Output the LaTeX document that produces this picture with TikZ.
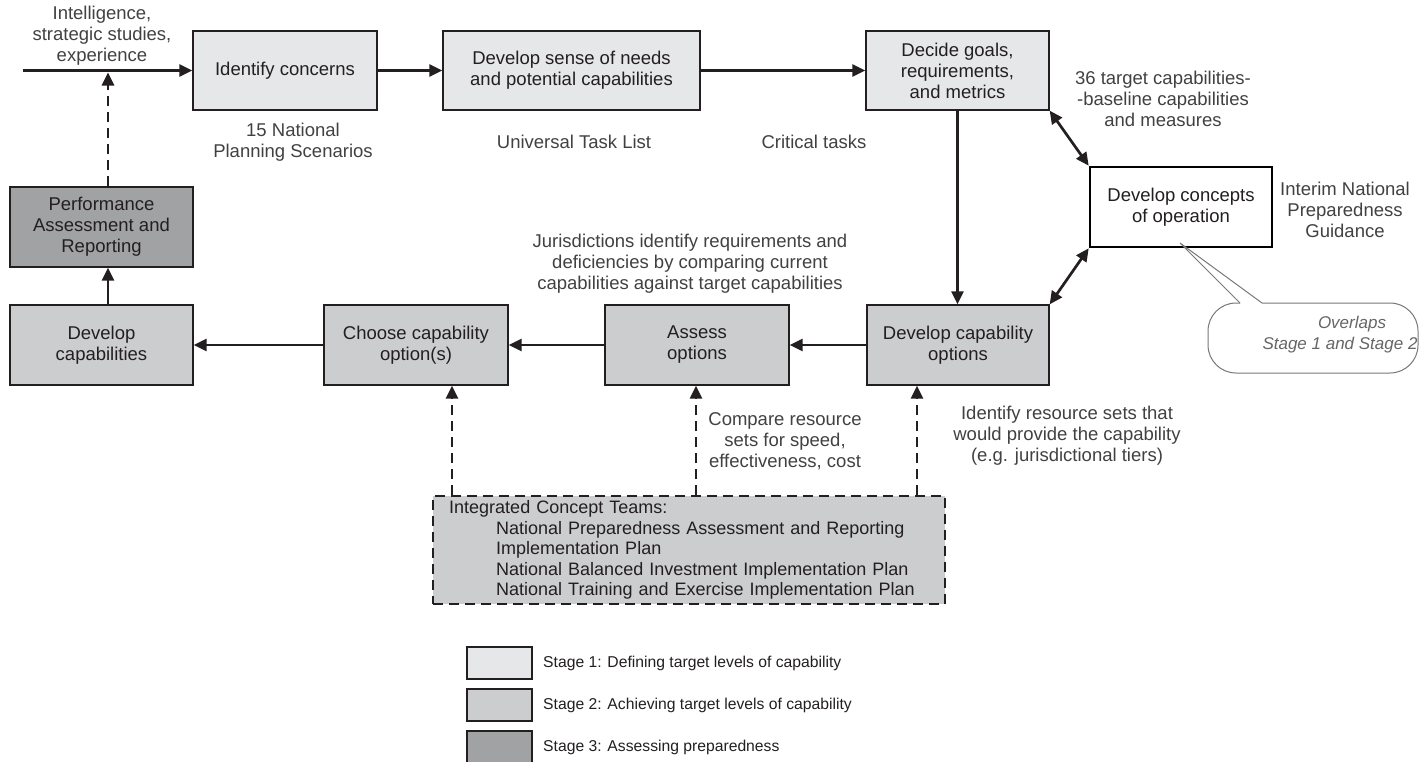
\documentclass[tikz,border=0pt]{standalone}
\usepackage{fontspec}
\setmainfont{Liberation Sans}
\usetikzlibrary{arrows.meta,calc}
\definecolor{sone}{RGB}{230,231,232}
\definecolor{stwo}{RGB}{204,205,207}
\definecolor{sthree}{RGB}{161,162,164}
\definecolor{ink}{RGB}{35,31,32}
\definecolor{soft}{RGB}{65,64,66}
\definecolor{bubblec}{RGB}{120,120,120}
\begin{document}
\begin{tikzpicture}[x=1pt,y=-1pt,
  box/.style={draw=ink, line width=1.3pt, inner sep=0pt, align=center,
    font=\fontsize{18.5}{21}\selectfont, text=ink, minimum height=80},
  sa/.style={box, fill=sone},
  sb/.style={box, fill=stwo},
  sc/.style={box, fill=sthree},
  note/.style={align=center, font=\fontsize{18.5}{21}\selectfont, text=soft},
  arr/.style={line width=2.7pt, draw=ink, -{Triangle[length=13pt,width=12pt]}},
  darr/.style={arr, dash pattern=on 10pt off 6pt},
  biarr/.style={line width=2.7pt, draw=ink, {Triangle[length=13pt,width=12pt]}-{Triangle[length=13pt,width=12pt]}},
  legbox/.style={draw=ink, line width=1.3pt, minimum width=65, minimum height=32, inner sep=0pt},
  legtext/.style={anchor=west, inner sep=0pt, font=\fontsize{15.7}{18}\selectfont, text=ink},
  bubble/.style={draw=bubblec, line width=1pt}
]
\useasboundingbox (0,0) rectangle (1426,761);

% Stage 1 boxes
\node[sa, minimum width=184, minimum height=79] (ic) at (285,70.5) {Identify concerns};
\node[sa, minimum width=257, minimum height=79] (ds) at (571.5,70.5) {Develop sense of needs\\and potential capabilities};
\node[sa, minimum width=183, minimum height=79] (dg) at (957.5,70.5) {Decide goals,\\requirements,\\and metrics};
\node[box, fill=white, line width=2.6pt, draw=black, minimum width=182] (dc) at (1181,207) {Develop concepts\\of operation};

% Stage 2 / 3 boxes
\node[sc, minimum width=183] (pa) at (101.5,227) {Performance\\Assessment and\\Reporting};
\node[sb, minimum width=183] (dcap) at (101.5,345) {Develop\\capabilities};
\node[sb, minimum width=184] (ch) at (416,345) {Choose capability\\option(s)};
\node[sb, minimum width=184] (as) at (697,345) {Assess\\options};
\node[sb, minimum width=182] (dco) at (958,345) {Develop capability\\options};

% Integrated concept teams
\node[draw=ink, fill=stwo, line width=2.4pt, dash pattern=on 10pt off 6pt,
  anchor=north west, minimum width=511, minimum height=108, text width=480,
  inner xsep=16pt, inner ysep=0pt, align=left,
  font=\fontsize{18}{20.5}\selectfont, text=ink] (ict) at (432,495)
  {Integrated Concept Teams:\\
   \hspace*{47pt}National Preparedness Assessment and Reporting\\
   \hspace*{47pt}Implementation Plan\\
   \hspace*{47pt}National Balanced Investment Implementation Plan\\
   \hspace*{47pt}National Training and Exercise Implementation Plan};

% Annotations
\node[note] (intel) at (102,36) {Intelligence,\\strategic studies,\\experience};
\node[note] (nps) at (293,142) {15 National\\Planning Scenarios};
\node[note] (utl) at (574,142) {Universal Task List};
\node[note] (crit) at (814,142) {Critical tasks};
\node[note] (tcap) at (1163,99) {36 target capabilities-\\-baseline capabilities\\and measures};
\node[note] (inpg) at (1345,210) {Interim National\\Preparedness\\Guidance};
\node[note] (jur) at (690,264) {Jurisdictions identify requirements and\\deficiencies by comparing current\\capabilities against target capabilities};
\node[note] (cmp) at (785,441) {Compare resource\\sets for speed,\\effectiveness, cost};
\node[note] (irs) at (1067,436) {Identify resource sets that\\would provide the capability\\(e.g. jurisdictional tiers)};

% Callout
\draw[bubble, fill=white, rounded corners=28pt] (1240,303) -- (1208,303) -- (1208,373) -- (1418,373) -- (1418,303) -- (1262,303);
\draw[bubble] (1240,303) -- (1180,243) -- (1262,303);
\node[align=center, font=\itshape\fontsize{17}{21}\selectfont, text=bubblec!85!black] (ovl) at (1340,335) {\hspace*{24pt}Overlaps\\Stage 1 and Stage 2};

% Connectors
\coordinate (inp) at (23,70.5);
\coordinate (join) at (108,72.5);
\coordinate (c1) at (452,0);
\coordinate (c2) at (696,0);
\coordinate (c3) at (917,0);
\draw[arr] (inp) -- (ic.west);
\draw[arr] (ic.east) -- (ds.west);
\draw[arr] (ds.east) -- (dg.west);
\draw[arr] (dg.south) -- (dg.south |- dco.north);
\draw[biarr] (dg.south east) -- (dc.north west);
\draw[biarr] (dco.north east) -- (dc.south west);
\draw[arr] (dco.west) -- (as.east);
\draw[arr] (as.west) -- (ch.east);
\draw[arr] (ch.west) -- (dcap.east);
\draw[arr] ([xshift=6.5pt]dcap.north) -- ([xshift=6.5pt]pa.south);
\draw[darr] ([xshift=6.5pt]pa.north) -- (join);
\draw[darr] (ict.north -| c1) -- (ch.south -| c1);
\draw[darr] (ict.north -| c2) -- (as.south -| c2);
\draw[darr] (ict.north -| c3) -- (dco.south -| c3);

% Legend
\node[legbox, fill=sone] (l1) at (499.5,663) {};
\node[legbox, fill=stwo] (l2) at (499.5,705) {};
\node[legbox, fill=sthree] (l3) at (499.5,747) {};
\node[legtext] (t1) at (543,663) {Stage 1: Defining target levels of capability};
\node[legtext] (t2) at (543,705) {Stage 2: Achieving target levels of capability};
\node[legtext] (t3) at (543,747) {Stage 3: Assessing preparedness};
\end{tikzpicture}
\end{document}
